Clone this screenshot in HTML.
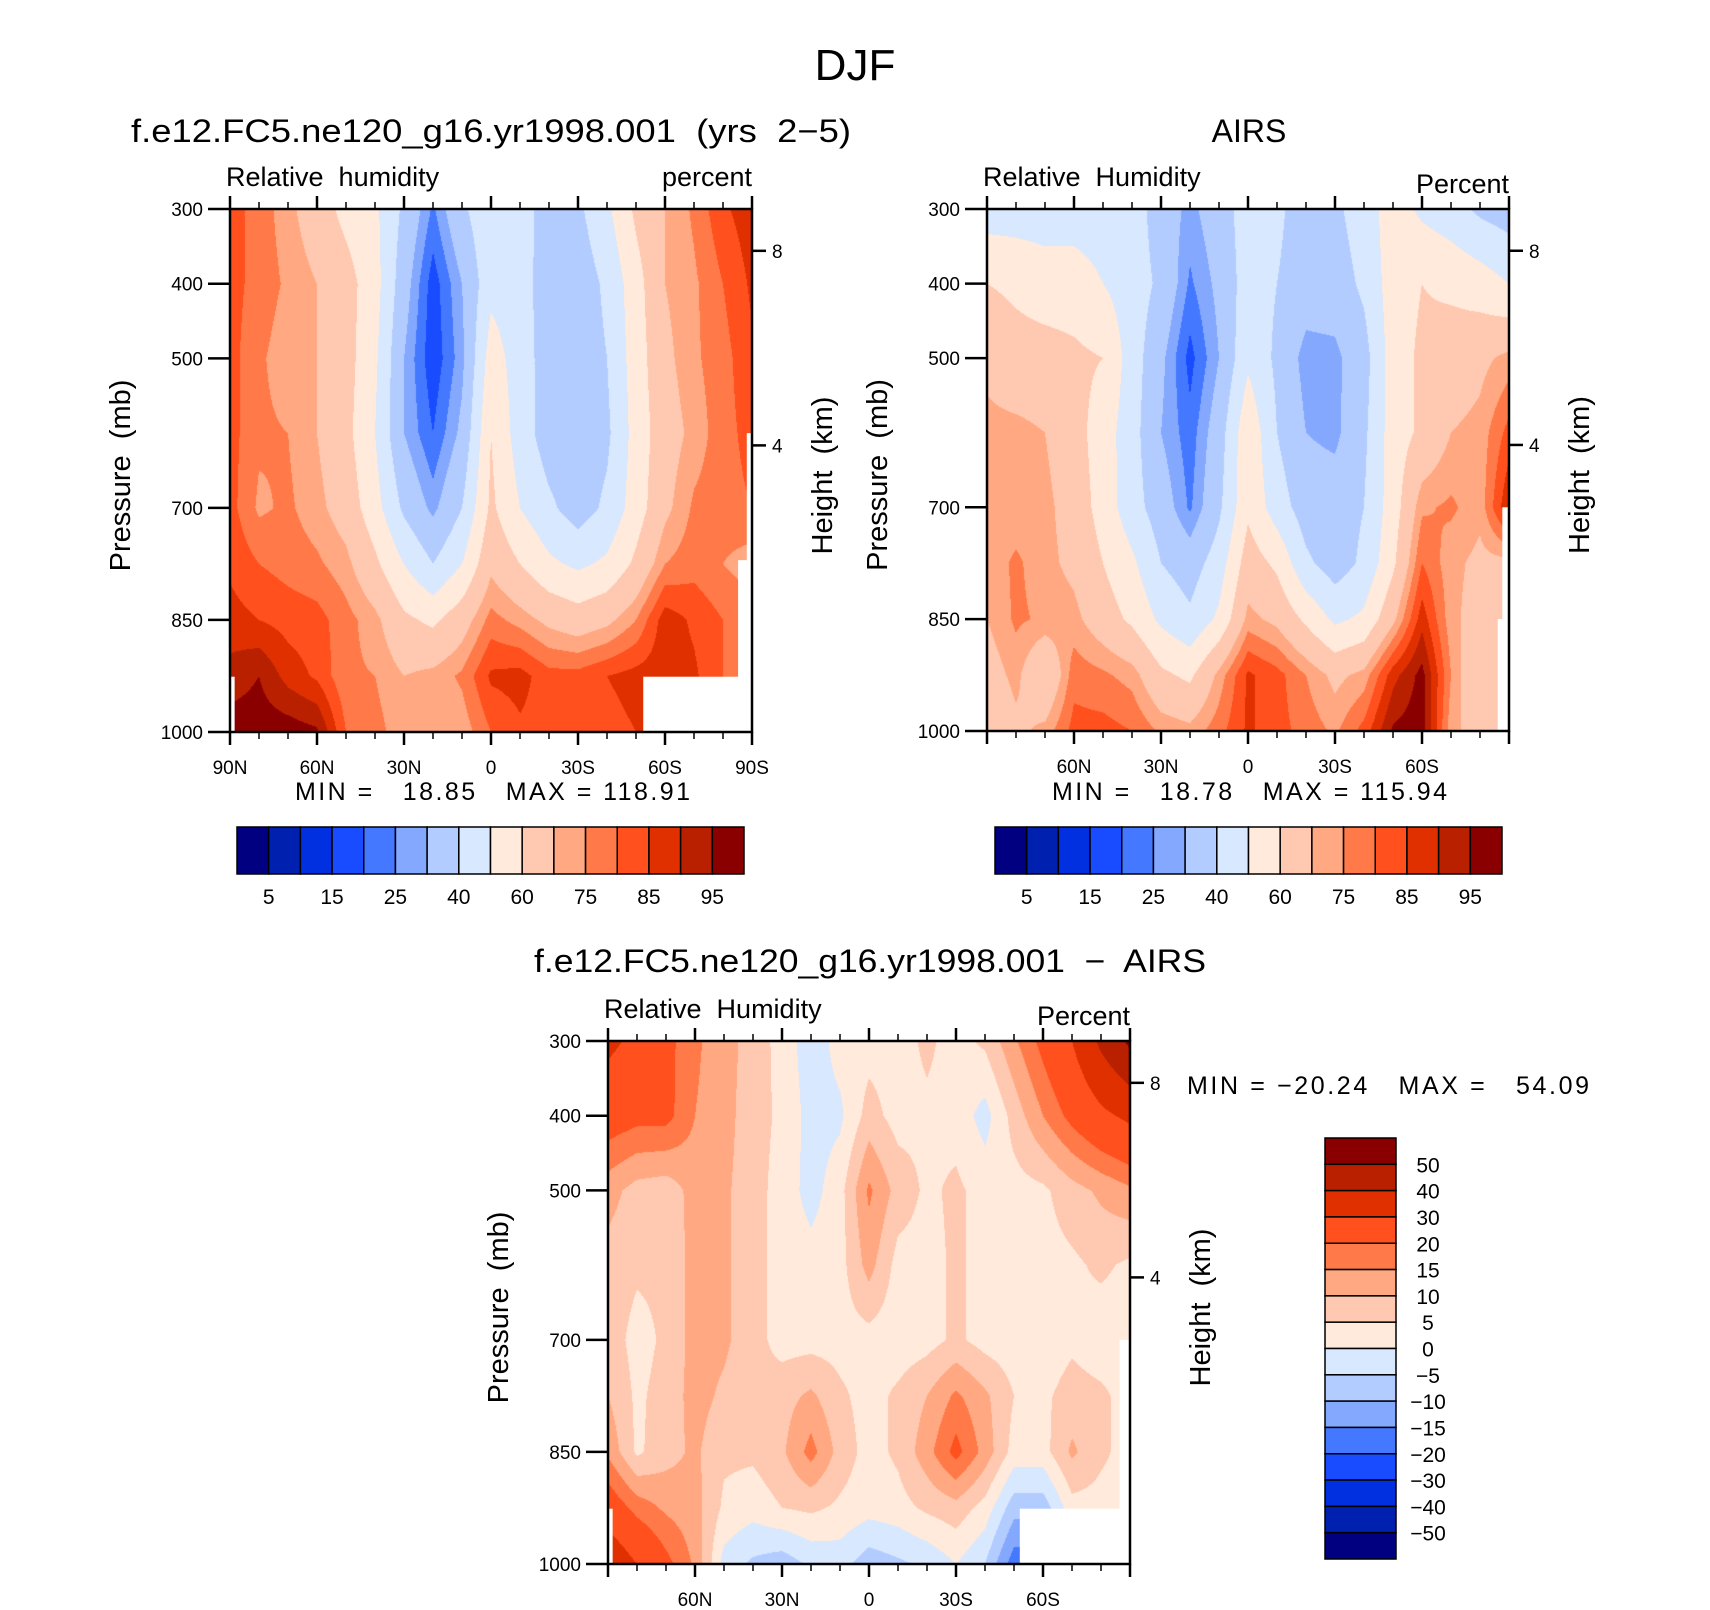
<!DOCTYPE html>
<html><head><meta charset="utf-8">
<style>
html,body{margin:0;padding:0;background:#fff;}
#wrap{position:relative;width:1710px;height:1610px;overflow:hidden;background:#fff;}
canvas{position:absolute;}
svg{position:absolute;left:0;top:0;}
text{font-family:"Liberation Sans",sans-serif;fill:#000;white-space:pre;}
</style></head>
<body>
<div id="wrap">
<canvas id="c1"></canvas>
<canvas id="c2"></canvas>
<canvas id="c3"></canvas>
<svg id="ov" width="1710" height="1610"></svg>
</div>
<script>
// ---------- data ----------
const lats = [90,80,70,60,50,40,30,20,10,0,-10,-20,-30,-40,-50,-60,-70,-80,-90];
const levels = [300,400,500,600,700,775,850,925,1000];
const rhLevels = [5,10,15,20,25,30,40,50,60,70,75,80,85,90,95];
const diffLevels = [-50,-40,-30,-20,-15,-10,-5,0,5,10,15,20,30,40,50];
const rhLabels = ["5","15","25","40","60","75","85","95"];
const diffLabels = ["50","40","30","20","15","10","5","0","−5","−10","−15","−20","−30","−40","−50"];
const palette = ["#000080","#0020b0","#0030e0","#1a4cff","#4478ff","#85a8ff","#b3ccff","#d8e8ff","#ffeadb","#ffc8b0","#ffa882","#ff7a48","#ff501e","#e03000","#b82000","#8a0000"];
const modelRH = [
[82,78,72,65,57,52,38,24,38,48,45,35,38,48,62,70,76,84,88],
[82,78,74,70,64,54,34,17,30,47,44,35,34,42,56,70,74,80,86],
[82,76,72,70,64,52,30,16,28,55,45,35,34,40,55,68,74,78,84],
[82,76,75,70,63,50,30,20,32,60,45,35,34,38,54,66,72,78,82],
[82,74,76,72,66,54,38,28,40,62,50,42,35,42,55,68,76,78,80],
[84,80,78,76,72,62,50,40,50,68,60,52,48,52,62,75,78,75,72],
[87,85,83,82,77,72,62,58,66,77,73,68,65,68,75,88,84,80,78],
[92,95,88,84,76,75,70,72,76,86,87,82,82,85,87,88,86,80,78],
[98,98,98,96,80,77,72,72,72,80,84,83,82,83,85,86,84,80,78]];
const airsRH = [
[45,45,45,45,45,45,35,28,35,45,42,35,38,45,55,48,44,38,35],
[60,58,55,55,50,45,38,24,32,45,40,35,35,42,55,60,58,55,50],
[68,64,64,62,60,45,32,18,30,48,38,27,28,36,55,62,65,68,72],
[72,72,70,64,55,44,30,22,35,58,40,30,28,38,55,62,70,72,82],
[72,72,72,66,56,44,35,24,38,58,45,35,35,40,55,74,76,72,90],
[72,76,72,68,60,52,40,35,45,65,58,42,35,42,58,80,72,68,68],
[70,76,74,72,65,58,48,42,52,72,68,58,48,52,68,88,72,66,66],
[66,72,60,78,76,73,62,58,72,86,82,75,68,72,88,97,75,60,60],
[62,68,72,82,82,80,74,72,78,86,82,78,74,82,96,98,72,66,66]];
const diffRH = [
[32,28,22,16,12,8,3,-3,2,3,3,6,3,6,14,22,30,42,52],
[24,22,22,15,12,7,4,-2,-1,7,3,4,3,-2,7,15,22,28,32],
[12,8,7,12,11,7,3,-2,3,16,8,4,6,3,3,4,8,11,14],
[8,6,6,12,11,7,3,2,3,12,3,3,6,3,2,3,4,6,4],
[8,3,6,12,11,7,3,3,3,3,2,3,6,3,2,2,4,2,2],
[10,4,7,12,9,6,8,11,6,3,6,10,16,11,5,4,7,6,3],
[14,4,8,11,6,6,9,17,8,3,6,13,22,13,3,3,11,6,3],
[25,18,14,12,4,2,5,6,4,2,3,6,8,3,-8,-8,3,3,3],
[38,30,22,14,-2,-6,-8,-4,-3,-8,-6,-4,0,-5,-18,-18,3,3,3]];
// missing-data masks: [lat1, lat2, pTop, pBottom]
const mask1 = [[90,88.4,926,1000],[-52.5,-90,926,1000],[-85.2,-90,770,1000],[-88.2,-90,600,1000]];
const mask2 = [[-86.1,-90,850,1000],[-87.7,-90,700,1000]];
const mask3 = [[90,88.4,926,1000],[-52,-90,926,1000],[-86.4,-90,700,1000]];
const heightTicks = [4,8];
const latTicks = [90,60,30,0,-30,-60,-90];
const pTicks = [300,400,500,700,850,1000];

const NS="http://www.w3.org/2000/svg";
const ov=document.getElementById('ov');
function el(tag,attrs,parent){const e=document.createElementNS(NS,tag);for(const k in attrs)e.setAttribute(k,attrs[k]);(parent||ov).appendChild(e);return e;}
function txt(s,x,y,size,anchor,parent,extra){const t=el('text',Object.assign({x:x,y:y,'font-size':size,'text-anchor':anchor||'start'},extra||{}),parent);t.textContent=s;return t;}
function latLabel(l){return l===0?"0":(Math.abs(l)+(l>0?"N":"S"));}
function hToP(h){return 1013.25*Math.pow(1-2.2558e-5*h*1000,5.2559);}

function interp(grid,lat,p){
  let i=0;while(i<lats.length-2&&lat<lats[i+1])i++;
  let j=0;while(j<levels.length-2&&p>levels[j+1])j++;
  const fx=(lats[i]-lat)/(lats[i]-lats[i+1]);
  const fy=(p-levels[j])/(levels[j+1]-levels[j]);
  const a=grid[j][i],b=grid[j][i+1],c=grid[j+1][i],d=grid[j+1][i+1];
  return (a*(1-fx)+b*fx)*(1-fy)+(c*(1-fx)+d*fx)*fy;
}
function hex(c){return [parseInt(c.slice(1,3),16),parseInt(c.slice(3,5),16),parseInt(c.slice(5,7),16)];}
const palRGB=palette.map(hex);

function drawPanel(o){
  const {cid,L,T,W,H,grid,lev,masks,name}=o;
  const xS=lat=>L+(90-lat)/180*W;
  const yS=p=>T+(p-300)/700*H;
  const cv=document.getElementById(cid);
  cv.width=W;cv.height=H;cv.style.left=L+'px';cv.style.top=T+'px';
  const ctx=cv.getContext('2d');const img=ctx.createImageData(W,H);
  for(let y=0;y<H;y++){const p=300+(y+0.5)/H*700;
    for(let x=0;x<W;x++){const lat=90-(x+0.5)/W*180;
      const v=interp(grid,lat,p);let k=0;while(k<lev.length&&v>=lev[k])k++;
      const c=palRGB[k];const idx=(y*W+x)*4;img.data[idx]=c[0];img.data[idx+1]=c[1];img.data[idx+2]=c[2];img.data[idx+3]=255;}}
  ctx.putImageData(img,0,0);
  const g=el('g',{});
  
  
  masks.forEach(m=>{const r=el('rect',{x:xS(m[0]),y:yS(m[2]),width:xS(m[1])-xS(m[0]),height:yS(m[3])-yS(m[2]),fill:'#fff'},g);
    
    });
  const fr=el('rect',{x:L,y:T,width:W,height:H,fill:'none',stroke:'#000','stroke-width':2.5},g);
  
  
  for(let l=90;l>=-90;l-=10){const x=xS(l);const maj=(l%30===0);const len=maj?13:7;
    el('line',{x1:x,y1:T+H,x2:x,y2:T+H+len,stroke:'#000','stroke-width':maj?2.5:1.5},g);
    el('line',{x1:x,y1:T,x2:x,y2:T-len,stroke:'#000','stroke-width':maj?2.5:1.5},g);}
  latTicks.forEach(l=>{if(o.edgeLabels||Math.abs(l)!==90){const t=txt(latLabel(l),xS(l),T+H+42,19,'middle',g);
    
    }});
  pTicks.forEach(p=>{const y=yS(p);el('line',{x1:L-22,y1:y,x2:L,y2:y,stroke:'#000','stroke-width':2.5},g);
    const t=txt(String(p),L-27,y+7,19,'end',g);
    
    });
  heightTicks.forEach(h=>{const y=yS(hToP(h));el('line',{x1:L+W,y1:y,x2:L+W+14,y2:y,stroke:'#000','stroke-width':2.5},g);
    const t=txt(String(h),L+W+20,y+7,19,'start',g);
    
    });
  const yl=txt('Pressure  (mb)',0,0,29,'middle',g,{transform:`translate(${L-100},${T+H/2+5}) rotate(-90)`});
  
  
  const hl=txt('Height  (km)',0,0,29,'middle',g,{transform:`translate(${L+W+80},${T+H/2+5}) rotate(-90)`});
  
  
  const ln=txt(o.left,L-4,T-23,27,'start',g);
  
  
  const un=txt(o.unit,L+W,T-23+o.unitDy,27,'end',g);
  
  
}
function hbar(L,T,W,H,name){
  const g=el('g',{});
  
  
  const bw=W/palette.length;
  palette.forEach((c,k)=>{const r=el('rect',{x:L+k*bw,y:T,width:bw,height:H,fill:c,stroke:'#000','stroke-width':1.5},g);
    
    });
  rhLabels.forEach((s,i)=>{const t=txt(s,L+(2*i+1)*bw,T+H+30,21,'middle',g);
    
    });
}
function vbar(L,T,W,H,name){
  const g=el('g',{});
  
  
  const bh=H/palette.length;
  palette.slice().reverse().forEach((c,k)=>{const r=el('rect',{x:L,y:T+k*bh,width:W,height:bh,fill:c,stroke:'#000','stroke-width':1.5},g);
    
    });
  diffLabels.forEach((s,i)=>{const t=txt(s,L+W+32,T+(i+1)*bh+8,21,'middle',g);
    
    });
}

const tt=txt('DJF',855,80,44,'middle');


const t1=txt('f.e12.FC5.ne120_g16.yr1998.001  (yrs  2−5)',491,142,32,'middle',null,{textLength:720,lengthAdjust:'spacingAndGlyphs'});


const t2=txt('AIRS',1249,142,32,'middle');


const t3=txt('f.e12.FC5.ne120_g16.yr1998.001  −  AIRS',870,972,32,'middle',null,{textLength:672,lengthAdjust:'spacingAndGlyphs'});



drawPanel({cid:'c1',L:230,T:209,W:522,H:523,grid:modelRH,lev:rhLevels,masks:mask1,name:'model',left:'Relative  humidity',unit:'percent',unitDy:0,edgeLabels:true});
drawPanel({cid:'c2',L:987,T:209,W:522,H:522,grid:airsRH,lev:rhLevels,masks:mask2,name:'airs',left:'Relative  Humidity',unit:'Percent',unitDy:7,edgeLabels:false});
drawPanel({cid:'c3',L:608,T:1041,W:522,H:523,grid:diffRH,lev:diffLevels,masks:mask3,name:'difference',left:'Relative  Humidity',unit:'Percent',unitDy:7,edgeLabels:false});

const m1=txt('MIN =   18.85   MAX = 118.91',295,800,25,'start',null,{textLength:395});


const m2=txt('MIN =   18.78   MAX = 115.94',1052,800,25,'start',null,{textLength:395});


const m3=txt('MIN = −20.24   MAX =   54.09',1187,1094,25,'start',null,{textLength:402});



hbar(237,827,507,47,'model-colorbar');
hbar(995,827,507,47,'airs-colorbar');
vbar(1325,1138,71,421,'difference-colorbar');
</script>
</body></html>
